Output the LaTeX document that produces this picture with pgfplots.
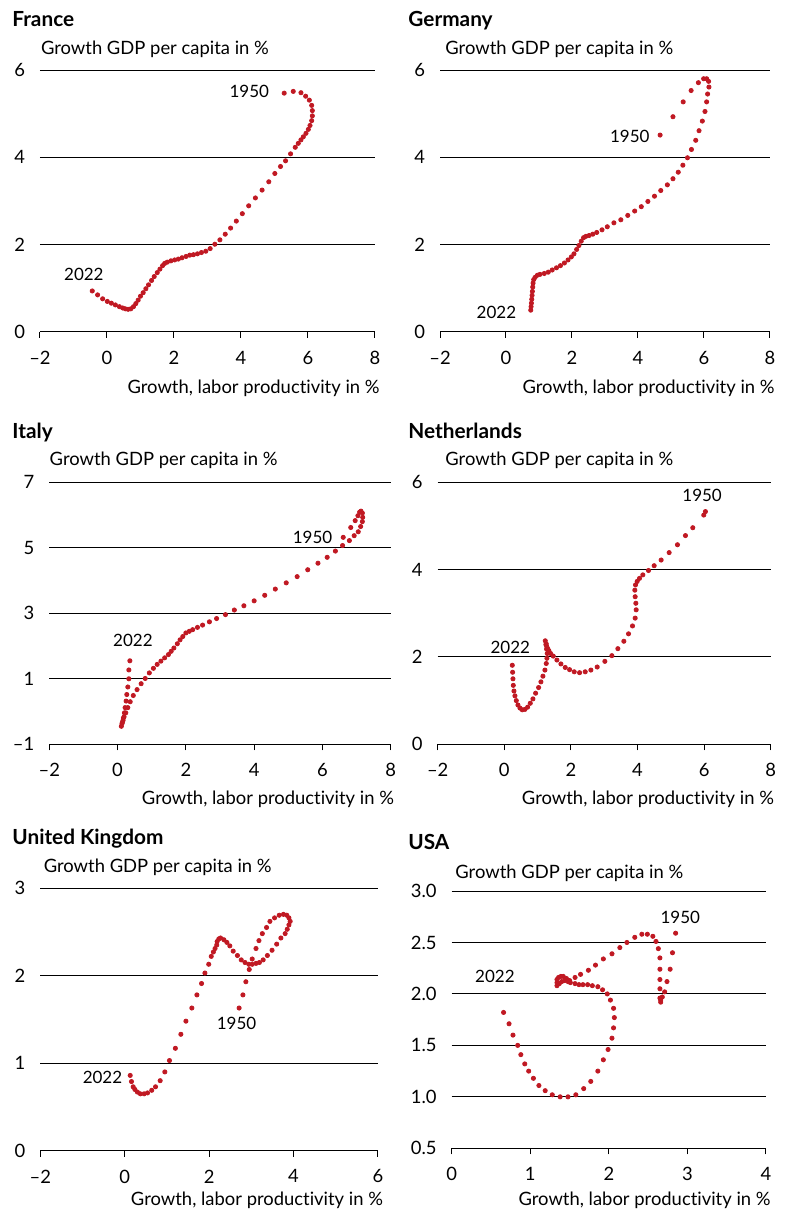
\documentclass[border=0pt]{standalone}
\usepackage{fontspec}
\setmainfont{Lato}[Ligatures={TeX,NoCommon}]
\usepackage{pgfplots}
\pgfplotsset{compat=1.18}
\definecolor{dotred}{RGB}{192,25,35}
\newcommand{\tfont}{\fontsize{8.5}{10.5}\selectfont}
\newcommand{\lfont}{\fontsize{9.2}{11}\selectfont}
\newcommand{\hfont}{\bfseries\fontsize{10.4}{12}\selectfont}
\pgfplotsset{
 panel/.style={
  scale only axis, anchor=south west, clip=false,
  axis x line*=bottom, axis y line*=left,
  y axis line style={draw=none},
  x axis line style={black, line width=0.5pt},
  xtick align=outside, major tick length=3pt,
  xtick style={black, line width=0.5pt},
  ytick style={draw=none},
  ymajorgrids, grid style={black, line width=0.5pt},
  tick label style={font=\lfont},
  xticklabel style={yshift=-3pt}, yticklabel style={xshift=-4pt},
 },
 dots/.style={only marks, mark=*, mark size=1.05pt, color=dotred, mark options={draw=none, fill=dotred}},
}
\begin{document}
\begin{tikzpicture}
\path[use as bounding box] (0,0) rectangle (395pt,606pt);
% ---------------- France
\begin{axis}[panel, at={(20pt,440pt)}, width=167.5pt, height=131pt,
  xmin=-2, xmax=8, ymin=0, ymax=6, xtick={-2,0,2,4,6,8}, xticklabels={--2,0,2,4,6,8},
  ytick={0,2,4,6}, yticklabels={0,2,4,6}]
\addplot[dots] coordinates {
(5.29,5.47) (5.56,5.51) (5.79,5.48) (5.93,5.40) (6.04,5.31) (6.11,5.19) (6.13,5.07) (6.13,4.95)
(6.11,4.84) (6.06,4.73) (6.01,4.64) (5.94,4.55) (5.86,4.47) (5.79,4.40) (5.71,4.32) (5.62,4.23)
(5.48,4.08) (5.33,3.92) (5.18,3.79) (5.01,3.63) (4.83,3.44) (4.63,3.25) (4.43,3.07) (4.23,2.89)
(4.04,2.71) (3.86,2.54) (3.69,2.38) (3.53,2.24) (3.37,2.11) (3.22,2.01) (3.08,1.91) (2.95,1.85)
(2.82,1.82) (2.70,1.79) (2.58,1.77) (2.47,1.76) (2.36,1.73) (2.24,1.70) (2.13,1.67) (2.02,1.65)
(1.91,1.63) (1.80,1.60) (1.72,1.57) (1.66,1.52) (1.58,1.44) (1.50,1.36) (1.41,1.27) (1.33,1.18)
(1.24,1.08) (1.16,0.99) (1.08,0.90) (1.00,0.82) (0.93,0.73) (0.86,0.65) (0.79,0.58) (0.71,0.53)
(0.63,0.52) (0.55,0.53) (0.47,0.55) (0.37,0.58) (0.25,0.62) (0.13,0.66) (0.01,0.70) (-0.13,0.76)
(-0.28,0.85) (-0.44,0.94)};
\node[anchor=east, font=\tfont, inner sep=0pt] at (axis cs:4.85,5.50) {1950};
\node[anchor=east, font=\tfont, inner sep=0pt] at (axis cs:-0.09,1.33) {2022};
\end{axis}
% ---------------- Germany
\begin{axis}[panel, at={(220pt,440pt)}, width=165pt, height=131pt,
  xmin=-2, xmax=8, ymin=0, ymax=6, xtick={-2,0,2,4,6,8}, xticklabels={--2,0,2,4,6,8},
  ytick={0,2,4,6}, yticklabels={0,2,4,6}]
\addplot[dots] coordinates {
(4.67,4.51) (5.06,4.93) (5.37,5.27) (5.61,5.53) (5.83,5.71) (5.99,5.80) (6.08,5.80) (6.14,5.74)
(6.15,5.61) (6.11,5.45) (6.08,5.27) (6.03,5.05) (5.95,4.83) (5.85,4.61) (5.75,4.39) (5.62,4.18)
(5.50,3.99) (5.36,3.82) (5.22,3.66) (5.06,3.51) (4.89,3.37) (4.69,3.24) (4.50,3.11) (4.30,2.99)
(4.10,2.87) (3.90,2.77) (3.69,2.67) (3.48,2.57) (3.27,2.50) (3.07,2.41) (2.91,2.34) (2.75,2.28)
(2.63,2.24) (2.52,2.21) (2.42,2.19) (2.35,2.16) (2.28,2.08) (2.21,1.98) (2.14,1.89) (2.06,1.79)
(1.98,1.72) (1.88,1.65) (1.77,1.58) (1.65,1.52) (1.53,1.47) (1.40,1.42) (1.28,1.37) (1.16,1.34)
(1.03,1.32) (0.95,1.30) (0.88,1.25) (0.84,1.20) (0.82,1.12) (0.81,1.03) (0.80,0.93) (0.79,0.84)
(0.78,0.75) (0.77,0.66) (0.76,0.58) (0.75,0.50)};
\node[anchor=east, font=\tfont, inner sep=0pt] at (axis cs:4.36,4.49) {1950};
\node[anchor=east, font=\tfont, inner sep=0pt] at (axis cs:0.32,0.44) {2022};
\end{axis}
% ---------------- Italy
\begin{axis}[panel, at={(24.65pt,233.85pt)}, width=170.7pt, height=131pt,
  xmin=-2, xmax=8, ymin=-1, ymax=7, xtick={-2,0,2,4,6,8}, xticklabels={--2,0,2,4,6,8},
  ytick={-1,1,3,5,7}, yticklabels={--1,1,3,5,7}]
\addplot[dots] coordinates {
(6.61,5.32) (6.83,5.62) (6.96,5.83) (7.04,5.98) (7.09,6.09) (7.13,6.12) (7.17,6.06) (7.18,5.93)
(7.17,5.80) (7.12,5.65) (7.05,5.49) (6.93,5.37) (6.79,5.22) (6.59,5.07) (6.38,4.90) (6.14,4.71)
(5.87,4.53) (5.57,4.33) (5.26,4.12) (4.94,3.93) (4.62,3.74) (4.31,3.55) (4.00,3.38) (3.70,3.23)
(3.42,3.10) (3.16,2.96) (2.90,2.84) (2.69,2.74) (2.49,2.64) (2.34,2.57) (2.20,2.50) (2.10,2.45)
(2.00,2.40) (1.91,2.29) (1.83,2.19) (1.75,2.07) (1.65,1.94) (1.57,1.84) (1.49,1.74) (1.38,1.64)
(1.27,1.54) (1.16,1.44) (1.05,1.32) (0.93,1.18) (0.81,1.01) (0.69,0.85) (0.57,0.67) (0.46,0.49)
(0.37,0.30) (0.30,0.12) (0.24,-0.04) (0.19,-0.16) (0.16,-0.27) (0.13,-0.37) (0.11,-0.45) (0.14,-0.33)
(0.17,-0.20) (0.20,-0.04) (0.22,0.12) (0.25,0.32) (0.27,0.52) (0.30,0.75) (0.33,1.00) (0.33,1.27)
(0.36,1.55)};
\node[anchor=east, font=\tfont, inner sep=0pt] at (axis cs:6.30,5.31) {1950};
\node[font=\tfont, inner sep=0pt] at (axis cs:0.45,2.16) {2022};
\end{axis}
% ---------------- Netherlands
\begin{axis}[panel, at={(218.85pt,233.85pt)}, width=166.5pt, height=131pt,
  xmin=-2, xmax=8, ymin=0, ymax=6, xtick={-2,0,2,4,6,8}, xticklabels={--2,0,2,4,6,8},
  ytick={0,2,4,6}, yticklabels={0,2,4,6}]
\addplot[dots] coordinates {
(6.04,5.33) (5.99,5.25) (5.66,4.96) (5.44,4.78) (5.20,4.57) (4.95,4.39) (4.71,4.22) (4.50,4.09)
(4.33,3.98) (4.16,3.88) (4.06,3.80) (3.99,3.73) (3.94,3.65) (3.92,3.53) (3.93,3.38) (3.95,3.23)
(3.96,3.08) (3.93,2.89) (3.85,2.71) (3.73,2.53) (3.59,2.36) (3.41,2.19) (3.23,2.03) (3.02,1.90)
(2.79,1.77) (2.60,1.70) (2.43,1.66) (2.26,1.64) (2.10,1.66) (1.96,1.71) (1.83,1.76) (1.70,1.84)
(1.58,1.93) (1.47,2.02) (1.39,2.08) (1.34,2.14) (1.31,2.18) (1.28,2.23) (1.26,2.30) (1.23,2.37)
(1.25,2.28) (1.27,2.18) (1.29,2.08) (1.28,1.97) (1.26,1.85) (1.22,1.70) (1.16,1.56) (1.10,1.43)
(1.03,1.30) (0.94,1.17) (0.86,1.04) (0.78,0.94) (0.70,0.85) (0.62,0.80) (0.54,0.79) (0.47,0.83)
(0.41,0.90) (0.36,1.00) (0.32,1.11) (0.29,1.22) (0.27,1.35) (0.26,1.50) (0.25,1.65) (0.24,1.81)};
\node[font=\tfont, inner sep=0pt] at (axis cs:5.94,5.71) {1950};
\node[font=\tfont, inner sep=0pt] at (axis cs:0.18,2.22) {2022};
\end{axis}
% ---------------- United Kingdom
\begin{axis}[panel, at={(20.15pt,30.65pt)}, width=168.85pt, height=131.3pt,
  xmin=-2, xmax=6, ymin=0, ymax=3, xtick={-2,0,2,4,6}, xticklabels={--2,0,2,4,6},
  ytick={0,1,2,3}, yticklabels={0,1,2,3}]
\addplot[dots] coordinates {
(2.71,1.63) (2.80,1.78) (2.87,1.93) (2.95,2.07) (3.02,2.19) (3.11,2.31) (3.18,2.40) (3.26,2.48)
(3.36,2.55) (3.44,2.62) (3.55,2.66) (3.66,2.69) (3.76,2.70) (3.84,2.69) (3.89,2.66) (3.92,2.62)
(3.89,2.58) (3.85,2.53) (3.80,2.48) (3.70,2.43) (3.60,2.36) (3.49,2.29) (3.38,2.23) (3.28,2.18)
(3.19,2.15) (3.11,2.14) (3.02,2.13) (2.94,2.13) (2.85,2.15) (2.76,2.18) (2.67,2.23) (2.57,2.28)
(2.49,2.34) (2.42,2.38) (2.35,2.41) (2.27,2.43) (2.23,2.42) (2.19,2.39) (2.18,2.35) (2.14,2.31)
(2.10,2.27) (2.05,2.22) (1.99,2.13) (1.90,2.03) (1.82,1.91) (1.71,1.78) (1.59,1.63) (1.45,1.48)
(1.33,1.33) (1.20,1.17) (1.06,1.03) (0.95,0.90) (0.84,0.80) (0.73,0.73) (0.64,0.69) (0.54,0.66)
(0.46,0.65) (0.37,0.65) (0.30,0.67) (0.24,0.70) (0.20,0.73) (0.16,0.79) (0.13,0.86)};
\node[font=\tfont, inner sep=0pt] at (axis cs:2.65,1.45) {1950};
\node[anchor=east, font=\tfont, inner sep=0pt] at (axis cs:-0.05,0.84) {2022};
\end{axis}
% ---------------- USA
\begin{axis}[panel, at={(225.85pt,31.85pt)}, width=157.15pt, height=128.65pt,
  xmin=0, xmax=4, ymin=0.5, ymax=3, xtick={0,1,2,3,4}, xticklabels={0,1,2,3,4},
  ytick={0.5,1,1.5,2,2.5,3}, yticklabels={0.5,1.0,1.5,2.0,2.5,3.0}]
\addplot[dots] coordinates {
(2.85,2.59) (2.81,2.40) (2.78,2.24) (2.74,2.12) (2.71,2.02) (2.68,1.97) (2.66,1.94) (2.66,1.92)
(2.65,1.96) (2.65,2.05) (2.65,2.14) (2.65,2.24) (2.65,2.35) (2.63,2.44) (2.60,2.51) (2.56,2.56)
(2.49,2.58) (2.42,2.58) (2.33,2.55) (2.23,2.50) (2.14,2.45) (2.04,2.39) (1.93,2.34) (1.83,2.28)
(1.74,2.23) (1.64,2.19) (1.57,2.16) (1.50,2.13) (1.46,2.15) (1.42,2.17) (1.39,2.17) (1.36,2.16)
(1.34,2.14) (1.34,2.11) (1.34,2.08) (1.37,2.10) (1.40,2.12) (1.44,2.13) (1.48,2.12) (1.51,2.11)
(1.57,2.10) (1.62,2.09) (1.67,2.09) (1.73,2.09) (1.79,2.08) (1.86,2.07) (1.92,2.04) (1.98,2.00)
(2.02,1.94) (2.06,1.86) (2.07,1.77) (2.06,1.67) (2.04,1.57) (1.99,1.46) (1.93,1.36) (1.86,1.25)
(1.77,1.15) (1.68,1.08) (1.58,1.02) (1.48,1.00) (1.38,1.00) (1.28,1.02) (1.19,1.06) (1.11,1.11)
(1.04,1.18) (0.98,1.25) (0.93,1.32) (0.88,1.41) (0.84,1.50) (0.78,1.60) (0.73,1.71) (0.66,1.82)};
\node[font=\tfont, inner sep=0pt] at (axis cs:2.91,2.74) {1950};
\node[font=\tfont, inner sep=0pt] at (axis cs:0.55,2.17) {2022};
\end{axis}
% ---------------- titles and axis labels
\node[anchor=base west, font=\hfont, inner sep=0pt] at (6pt,592.5pt) {France};
\node[anchor=base west, font=\hfont, inner sep=0pt] at (204pt,592.5pt) {Germany};
\node[anchor=base west, font=\hfont, inner sep=0pt] at (6pt,386.5pt) {Italy};
\node[anchor=base west, font=\hfont, inner sep=0pt] at (204pt,386.5pt) {Netherlands};
\node[anchor=base west, font=\hfont, inner sep=0pt] at (6pt,183.5pt) {United Kingdom};
\node[anchor=base west, font=\hfont, inner sep=0pt] at (204pt,181pt) {USA};
\node[anchor=base west, font=\lfont, inner sep=0pt] at (20.3pt,578.85pt) {Growth GDP per capita in \%};
\node[anchor=base west, font=\lfont, inner sep=0pt] at (222.5pt,578.85pt) {Growth GDP per capita in \%};
\node[anchor=base west, font=\lfont, inner sep=0pt] at (24.65pt,373pt) {Growth GDP per capita in \%};
\node[anchor=base west, font=\lfont, inner sep=0pt] at (222.5pt,373pt) {Growth GDP per capita in \%};
\node[anchor=base west, font=\lfont, inner sep=0pt] at (21.7pt,169.85pt) {Growth GDP per capita in \%};
\node[anchor=base west, font=\lfont, inner sep=0pt] at (227.5pt,166.85pt) {Growth GDP per capita in \%};
\node[anchor=base east, font=\lfont, inner sep=0pt] at (190pt,409.35pt) {Growth, labor productivity in \%};
\node[anchor=base east, font=\lfont, inner sep=0pt] at (387.5pt,409.35pt) {Growth, labor productivity in \%};
\node[anchor=base east, font=\lfont, inner sep=0pt] at (197.2pt,203.5pt) {Growth, labor productivity in \%};
\node[anchor=base east, font=\lfont, inner sep=0pt] at (387.2pt,203.8pt) {Growth, labor productivity in \%};
\node[anchor=base east, font=\lfont, inner sep=0pt] at (191.7pt,3pt) {Growth, labor productivity in \%};
\node[anchor=base east, font=\lfont, inner sep=0pt] at (385.5pt,3.2pt) {Growth, labor productivity in \%};
\end{tikzpicture}
\end{document}
